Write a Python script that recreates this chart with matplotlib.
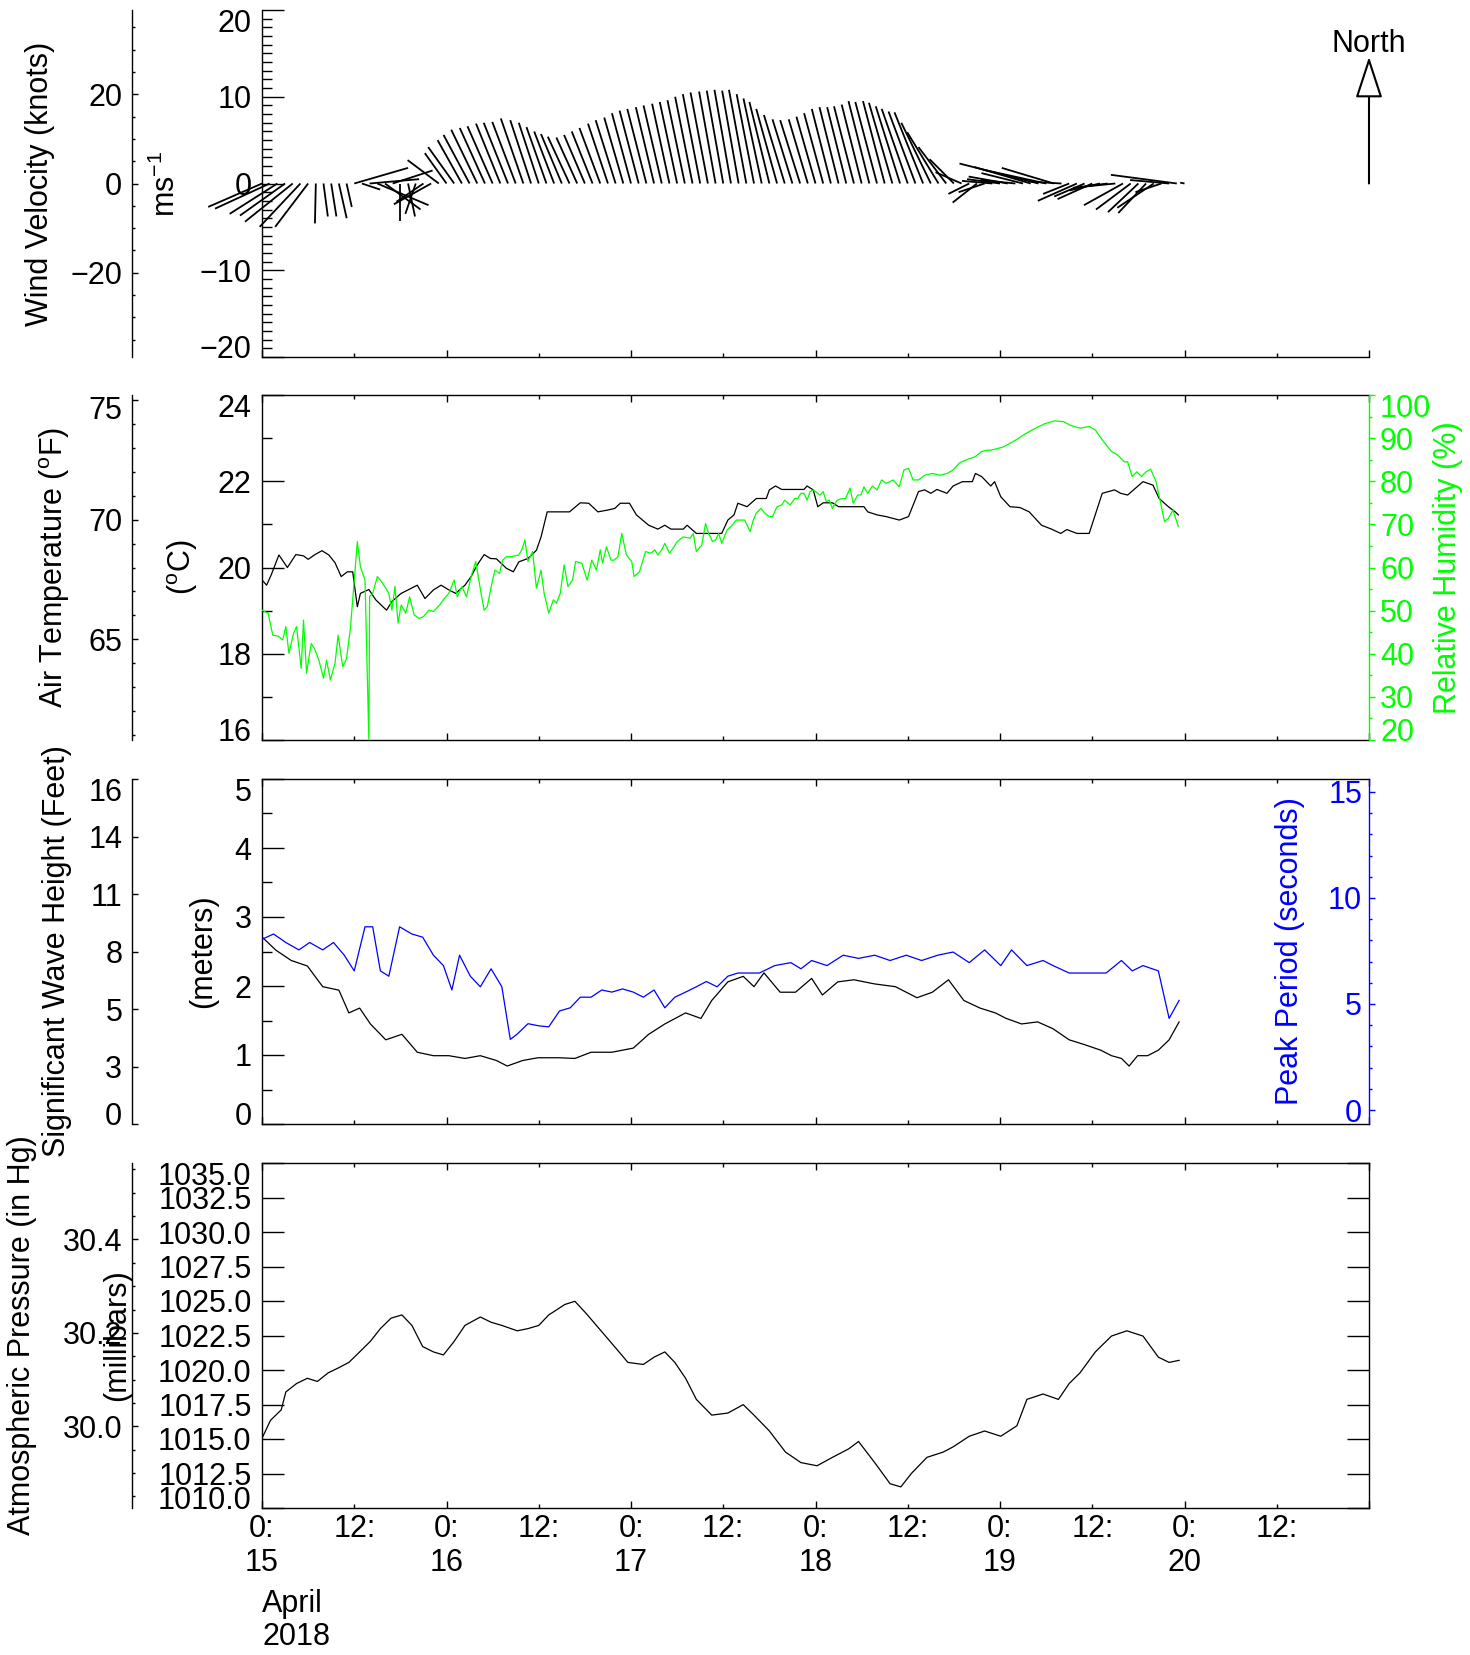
""" Buoy weather summary: wind sticks, temperature/humidity, waves, pressure """
import numpy as np
import matplotlib
matplotlib.use('Agg')
import matplotlib.pyplot as plt
from matplotlib.collections import LineCollection
from matplotlib.patches import FancyArrowPatch
from matplotlib.ticker import MultipleLocator, FixedLocator, FormatStrFormatter
from matplotlib.transforms import ScaledTranslation

plt.rcParams['font.family'] = ['Liberation Sans', 'DejaVu Sans']
plt.rcParams['mathtext.fontset'] = 'custom'
plt.rcParams['mathtext.rm'] = 'Liberation Sans'
plt.rcParams['mathtext.it'] = 'Liberation Sans:italic'
plt.rcParams['font.size'] = 22
plt.rcParams['axes.linewidth'] = 1.0

W, H = 1470, 1655
GREEN = '#00ff00'
BLUE = '#0000ff'

# ---- data (hours after 15 April 2018 00:00) ----
DAY_START, DAY_END = 15, 21
DAY_NUMBERS = [15, 16, 17, 18, 19, 20]

WIND_HOURS = list(range(121))
WIND_U = [-6.2, -6.3, -5.5, -5.2, -5.5, -4.7, -3.8, -0.1, 0.5, 0.6,
          0.9, 0.6, 6.2, 2.1, 5.7, 5.9, 4.1, 4.6, 0.0, 0.8,
          -1.2, -3.1, -4.3, -3.6, -2.5, -3.0, -2.8, -3.0, -3.0, -2.9,
          -2.9, -2.8, -2.8, -2.7, -2.6, -2.4, -2.3, -2.3, -2.3, -2.4,
          -2.5, -2.4, -2.4, -2.4, -2.4, -2.3, -2.3, -2.2, -2.2, -2.2,
          -2.2, -2.1, -2.1, -2.0, -2.0, -2.0, -2.0, -2.0, -2.0, -1.9,
          -1.9, -1.9, -1.9, -2.0, -2.0, -2.1, -2.3, -2.4, -2.4, -2.3,
          -2.3, -2.2, -2.2, -2.2, -2.2, -2.2, -2.2, -2.3, -2.3, -2.4,
          -2.5, -2.5, -2.7, -2.8, -3.0, -3.1, -3.3, -3.4, -3.6, -3.2,
          -2.8, -3.0, -2.4, -2.8, -3.0, -3.5, -3.8, -4.5, -4.0, -4.8,
          -6.5, -9.1, -7.3, -6.0, -3.5, -3.0, -4.5, -3.5, -4.0, -3.5,
          -4.0, -3.0, -4.5, -4.0, -3.5, -3.2, -4.2, -3.0, -4.5, -7.6,
          -0.5]
WIND_V = [-2.7, -2.9, -3.5, -3.7, -4.4, -5.0, -5.0, -4.6, -3.8, -3.8,
          -4.0, -2.7, 1.8, -0.7, 0.5, -2.5, -3.0, 1.5, -4.3, -3.8,
          -3.5, -2.1, -2.4, 2.7, 3.5, 4.2, 5.0, 5.6, 6.2, 6.4,
          6.6, 6.9, 7.0, 7.1, 7.5, 7.3, 7.0, 6.5, 6.0, 5.7,
          5.4, 5.3, 5.6, 6.0, 6.4, 6.9, 7.3, 7.6, 8.1, 8.4,
          8.6, 8.8, 9.0, 9.2, 9.4, 9.6, 10.0, 10.3, 10.5, 10.6,
          10.7, 10.8, 10.7, 10.8, 10.3, 9.8, 9.4, 8.6, 7.9, 7.4,
          7.3, 7.4, 7.7, 8.1, 8.6, 8.8, 8.8, 8.9, 9.1, 9.5,
          9.4, 9.5, 9.3, 8.9, 8.6, 8.3, 8.2, 7.0, 5.9, 4.2,
          2.8, 1.3, -1.2, -2.2, -1.0, 0.3, 0.5, 0.8, 0.4, 1.2,
          1.9, 2.3, 1.6, 1.8, 0.2, -1.2, -2.0, -1.5, -1.8, -0.8,
          -0.5, -0.3, -2.5, -3.0, -3.3, -3.4, -2.8, -1.0, 0.4, 1.0,
          0.1]
NORTH_REF = 14.6  # m/s, legend arrow

TEMP_HOURS = [0.0, 0.6, 1.2, 2.2, 3.3, 4.4, 5.4, 6.0, 6.9, 7.8, 8.7, 9.5, 10.3, 11.1, 11.8,
              12.4, 12.8, 13.9, 14.8, 16.2, 16.9, 18.1, 19.0, 20.2, 21.2, 22.3, 23.3, 24.3,
              25.2, 26.4, 27.2, 28.0, 28.9, 29.7, 30.5, 31.8, 32.7, 33.4, 34.6, 35.7, 36.3,
              37.1, 40.0, 41.4, 42.5, 43.7, 44.9, 45.9, 46.6, 47.8, 48.7, 50.3, 51.5, 52.4,
              53.2, 54.8, 55.3, 56.5, 58.1, 59.8, 60.6, 61.4, 61.9, 63.1, 64.3, 65.6, 66.0,
              66.8, 67.6, 70.5, 70.9, 71.7, 72.3, 73.0, 74.2, 75.0, 78.3, 78.8, 80.0, 81.2,
              82.9, 84.1, 85.4, 86.2, 87.0, 87.8, 89.1, 89.9, 91.1, 92.4, 92.8, 93.6, 94.8,
              95.3, 96.1, 97.3, 98.6, 99.8, 101.4, 102.7, 103.9, 104.7, 106.0, 107.6, 109.3,
              110.9, 111.7, 112.6, 114.6, 115.9, 116.7, 117.9, 118.8, 119.2]
TEMP_C = [19.71, 19.59, 19.83, 20.29, 20.00, 20.30, 20.27, 20.19, 20.30, 20.39, 20.29, 20.11,
          19.79, 19.90, 19.90, 19.09, 19.40, 19.49, 19.25, 19.01, 19.21, 19.40, 19.48, 19.59,
          19.28, 19.48, 19.59, 19.48, 19.40, 19.59, 19.79, 20.06, 20.30, 20.21, 20.20, 19.98,
          19.90, 20.13, 20.21, 20.40, 20.71, 21.29, 21.29, 21.50, 21.49, 21.29, 21.33, 21.37,
          21.49, 21.49, 21.22, 20.98, 20.89, 20.98, 20.89, 20.89, 20.98, 20.79, 20.79, 20.79,
          21.10, 21.22, 21.49, 21.41, 21.60, 21.60, 21.80, 21.89, 21.81, 21.81, 21.89, 21.80,
          21.41, 21.50, 21.50, 21.41, 21.41, 21.29, 21.22, 21.18, 21.10, 21.18, 21.76, 21.80,
          21.72, 21.81, 21.72, 21.89, 21.99, 21.99, 22.18, 22.11, 21.89, 21.99, 21.64, 21.41,
          21.39, 21.29, 20.98, 20.89, 20.79, 20.88, 20.79, 20.79, 21.72, 21.80, 21.72, 21.68,
          21.99, 21.91, 21.60, 21.41, 21.29, 21.22]

RH_HOURS = [0.0, 0.8, 1.4, 2.1, 2.7, 3.1, 3.5, 4.1, 4.5, 5.1, 5.4, 5.8, 6.4, 6.8, 7.4, 8.0, 8.4,
            8.9, 9.5, 9.9, 10.5, 11.0, 11.5, 12.4, 12.8, 13.4, 13.9, 14.0, 14.4, 15.0, 15.4,
            16.1, 16.5, 16.9, 17.3, 17.7, 18.1, 18.7, 19.2, 19.8, 20.4, 21.0, 21.7, 22.3, 23.1,
            23.7, 24.3, 25.0, 25.4, 26.0, 26.6, 27.2, 27.8, 28.5, 28.9, 29.3, 29.9, 30.3, 30.9,
            31.3, 31.8, 32.4, 33.4, 33.8, 34.2, 34.6, 35.2, 35.7, 36.3, 36.7, 37.3, 37.9, 38.3,
            38.8, 39.3, 39.8, 40.4, 40.8, 41.6, 42.3, 42.9, 43.5, 44.0, 44.3, 44.8, 45.4, 45.8,
            46.3, 46.8, 47.4, 48.1, 48.4, 49.1, 49.5, 49.9, 50.6, 51.1, 51.5, 52.0, 52.4, 53.0,
            53.6, 54.0, 54.8, 55.7, 56.1, 56.5, 57.2, 57.7, 58.1, 58.6, 59.0, 59.4, 59.8, 60.5,
            61.0, 61.7, 62.3, 62.8, 63.5, 63.9, 64.3, 64.9, 65.4, 66.0, 66.4, 67.0, 67.6, 68.0,
            68.7, 69.3, 69.7, 70.1, 70.5, 70.9, 71.3, 71.7, 72.6, 73.0, 73.4, 73.8, 74.2, 74.8,
            75.5, 75.9, 76.5, 76.9, 77.5, 77.9, 78.3, 78.8, 79.4, 80.0, 80.6, 81.2, 82.1, 82.9,
            83.5, 84.1, 84.7, 85.4, 86.2, 87.2, 88.2, 89.1, 89.9, 90.7, 91.5, 92.8, 93.6, 94.4,
            94.8, 95.7, 96.5, 97.3, 98.1, 99.4, 100.6, 101.9, 103.1, 104.3, 105.1, 106.4, 107.6,
            108.4, 109.3, 110.5, 111.3, 112.2, 112.6, 113.2, 113.8, 114.4, 115.0, 115.6, 116.3,
            116.9, 117.4, 117.9, 118.5, 119.2]
RH_PCT = [50.1, 49.4, 44.3, 44.1, 43.2, 46.3, 40.1, 44.7, 46.3, 36.6, 47.8, 35.5, 42.4, 41.3,
          38.5, 34.3, 38.5, 33.9, 37.8, 44.3, 37.0, 38.9, 45.9, 66.0, 60.2, 57.1, 20.0, 53.2,
          54.0, 57.9, 57.1, 55.2, 54.0, 50.1, 55.6, 47.1, 51.3, 49.4, 53.2, 49.0, 48.2, 48.6,
          50.1, 49.8, 51.3, 52.8, 54.0, 57.1, 53.2, 55.6, 53.2, 57.9, 61.4, 54.0, 50.1, 50.9,
          56.3, 59.4, 58.6, 61.7, 62.5, 62.5, 62.9, 64.1, 66.4, 61.4, 63.7, 55.2, 59.4, 54.0,
          49.4, 52.5, 51.7, 54.0, 60.6, 55.6, 57.1, 61.4, 61.0, 57.1, 61.7, 59.4, 64.1, 61.0,
          64.8, 61.7, 61.7, 62.5, 67.9, 62.9, 61.4, 57.9, 59.0, 61.4, 63.7, 63.3, 64.1, 62.9,
          64.1, 65.6, 63.3, 64.8, 66.0, 67.1, 66.8, 67.9, 63.7, 65.2, 70.2, 67.9, 66.0, 66.4,
          67.9, 65.6, 68.7, 69.5, 71.0, 71.0, 71.0, 68.3, 71.0, 72.6, 73.7, 72.6, 71.8, 71.8,
          74.1, 74.5, 75.6, 74.5, 76.0, 76.0, 77.2, 77.2, 75.6, 77.6, 78.0, 76.8, 77.6, 75.3,
          75.6, 73.7, 75.6, 76.0, 76.0, 78.4, 74.9, 76.8, 76.8, 78.7, 77.2, 78.9, 78.0, 80.3,
          79.5, 80.3, 78.7, 82.6, 83.0, 80.3, 80.3, 81.4, 81.8, 81.4, 81.8, 82.6, 84.2, 84.9,
          85.7, 86.9, 87.2, 87.2, 87.6, 88.0, 88.8, 89.6, 91.1, 92.3, 93.4, 94.0, 93.8, 93.0,
          92.3, 92.7, 91.9, 89.6, 86.9, 86.1, 84.5, 84.5, 81.1, 82.2, 81.1, 82.2, 82.8, 79.9,
          74.9, 70.6, 71.4, 73.3, 69.5]

WAVE_HOURS = [0.0, 1.8, 3.8, 5.9, 7.9, 10.0, 11.3, 12.7, 14.1, 16.1, 18.2, 20.2, 22.3, 24.3,
              26.4, 28.4, 30.5, 31.9, 33.9, 35.9, 38.7, 40.7, 42.8, 45.5, 48.3, 50.3, 52.4,
              55.1, 57.1, 58.5, 60.6, 62.6, 64.0, 65.3, 67.4, 69.4, 71.5, 72.9, 74.9, 77.0,
              79.7, 82.4, 85.2, 87.2, 89.3, 91.3, 93.4, 95.4, 96.8, 98.8, 100.9, 102.9, 105.0,
              107.0, 109.1, 110.5, 111.8, 112.8, 113.9, 115.2, 116.6, 118.0, 119.3]
WAVE_M = [2.71, 2.52, 2.37, 2.29, 1.99, 1.94, 1.61, 1.68, 1.45, 1.22, 1.30, 1.04, 0.99, 0.99,
          0.95, 0.99, 0.92, 0.84, 0.92, 0.96, 0.96, 0.95, 1.04, 1.04, 1.10, 1.30, 1.45, 1.61,
          1.53, 1.79, 2.06, 2.14, 1.99, 2.19, 1.91, 1.91, 2.11, 1.87, 2.06, 2.09, 2.03, 1.99,
          1.83, 1.91, 2.09, 1.79, 1.68, 1.61, 1.53, 1.45, 1.48, 1.38, 1.22, 1.15, 1.07, 0.99,
          0.95, 0.84, 0.99, 0.99, 1.07, 1.22, 1.48]

PERIOD_HOURS = [0.0, 1.5, 3.1, 4.8, 6.2, 7.9, 9.3, 10.7, 12.0, 13.4, 14.4, 15.4, 16.5, 17.9,
                19.5, 20.9, 22.3, 23.6, 24.7, 25.7, 27.1, 28.4, 29.8, 31.2, 32.3, 33.2, 34.6,
                36.0, 37.3, 38.7, 40.1, 41.4, 42.8, 44.2, 45.5, 46.9, 48.3, 49.6, 51.0, 52.4,
                53.7, 55.1, 56.5, 57.8, 59.2, 60.6, 61.9, 64.7, 66.7, 68.8, 70.1, 71.5, 73.5,
                75.6, 77.6, 79.7, 81.7, 83.8, 85.8, 87.9, 89.9, 92.0, 94.0, 96.1, 97.5, 99.5,
                101.6, 102.9, 105.0, 107.0, 109.8, 111.8, 113.2, 114.6, 116.6, 118.0, 119.3]
PERIOD_S = [8.05, 8.30, 7.90, 7.55, 7.90, 7.55, 7.90, 7.30, 6.56, 8.64, 8.64, 6.56, 6.31, 8.64,
            8.30, 8.15, 7.30, 6.81, 5.66, 7.30, 6.31, 5.81, 6.66, 5.81, 3.33, 3.58, 4.07, 3.97,
            3.92, 4.67, 4.82, 5.32, 5.32, 5.66, 5.56, 5.71, 5.56, 5.32, 5.66, 4.82, 5.32, 5.56,
            5.81, 6.06, 5.81, 6.31, 6.46, 6.46, 6.81, 6.95, 6.66, 7.05, 6.81, 7.30, 7.15, 7.30,
            7.05, 7.30, 7.05, 7.30, 7.45, 6.95, 7.55, 6.81, 7.55, 6.81, 7.05, 6.81, 6.46, 6.46,
            6.46, 7.05, 6.56, 6.81, 6.56, 4.32, 5.17]

PRES_HOURS = [0.0, 1.1, 2.5, 3.1, 4.5, 5.9, 7.2, 8.6, 10.0, 11.3, 12.7, 14.1, 15.4, 16.8, 18.2,
              19.5, 20.9, 22.3, 23.6, 25.0, 26.4, 28.4, 29.8, 31.2, 33.2, 34.6, 36.0, 37.3,
              39.4, 40.7, 42.1, 43.5, 45.5, 47.6, 49.6, 51.0, 52.4, 53.7, 55.1, 56.5, 58.5,
              60.6, 62.6, 64.0, 66.0, 68.1, 70.1, 72.2, 74.2, 76.3, 77.6, 79.7, 81.7, 83.1,
              84.5, 86.5, 88.6, 89.9, 92.0, 94.0, 96.1, 98.2, 99.5, 101.6, 103.6, 105.0, 106.4,
              108.4, 110.5, 112.5, 114.6, 116.6, 118.0, 119.3]
PRES_MB = [1015.05, 1016.35, 1017.11, 1018.41, 1019.02, 1019.40, 1019.17, 1019.79, 1020.17,
           1020.55, 1021.31, 1022.08, 1023.00, 1023.76, 1023.99, 1023.23, 1021.70, 1021.31,
           1021.09, 1022.08, 1023.23, 1023.84, 1023.46, 1023.23, 1022.84, 1023.00, 1023.23,
           1023.99, 1024.75, 1024.98, 1024.14, 1023.23, 1021.93, 1020.55, 1020.40, 1020.93,
           1021.31, 1020.55, 1019.40, 1017.87, 1016.73, 1016.88, 1017.49, 1016.73, 1015.58,
           1014.05, 1013.29, 1013.06, 1013.67, 1014.28, 1014.82, 1013.29, 1011.76, 1011.53,
           1012.52, 1013.67, 1014.05, 1014.43, 1015.20, 1015.58, 1015.20, 1015.96, 1017.87,
           1018.26, 1017.87, 1019.02, 1019.79, 1021.31, 1022.46, 1022.84, 1022.46, 1020.93,
           1020.55, 1020.70]

KNOTS_PER_MS = 1.94384
FT_PER_M = 3.28084
MB_PER_INHG = 33.8639


def days(hours):
    return DAY_START + np.asarray(hours) / 24.0


def box(left, top, right, bottom):
    """ pixel box -> figure fraction rect """
    return [left / W, 1 - bottom / H, (right - left) / W, (bottom - top) / H]


def day_ticks(ax, top=True):
    ax.set_xlim(DAY_START, DAY_END)
    ax.xaxis.set_major_locator(MultipleLocator(1))
    ax.xaxis.set_minor_locator(MultipleLocator(0.5))
    ax.tick_params(axis='x', which='both', direction='in', top=top, width=1,
                   labelbottom=False, pad=4)
    ax.tick_params(axis='x', which='major', length=5)
    ax.tick_params(axis='x', which='minor', length=3)


def y_ticks(ax, lim, major, minor=None, right=False, minor_len=7):
    ax.set_ylim(*lim)
    ax.yaxis.set_major_locator(MultipleLocator(major))
    if minor:
        ax.yaxis.set_minor_locator(MultipleLocator(minor))
    ax.tick_params(axis='y', which='both', direction='in', width=1, pad=7.5, right=right)
    ax.tick_params(axis='y', which='major', length=16)
    ax.tick_params(axis='y', which='minor', length=minor_len)


def pin_end_labels(axis, low=True, high=True, shift=7.5):
    """ nudge the end labels inside the axis, as the original plot does """
    lo, hi = sorted(axis.get_view_interval())
    eps = (hi - lo) * 1e-6
    locs = axis.get_majorticklocs()
    ticks = axis.get_major_ticks(len(locs))
    inside = [t for t, v in zip(ticks, locs) if lo - eps <= v <= hi + eps]
    moves = []
    if low:
        moves.append((inside[0], shift))
    if high:
        moves.append((inside[-1], -shift))
    for tick, dy in moves:
        off = ScaledTranslation(0, dy / 72.0, fig.dpi_scale_trans)
        for lab in (tick.label1, tick.label2):
            lab.set_transform(lab.get_transform() + off)


def side_axis(panel, lim, label, label_x):
    left, top, _, bottom = panel
    ax = fig.add_axes(box(132, top, left, bottom))
    ax.patch.set_visible(False)
    for s in ('top', 'right', 'bottom'):
        ax.spines[s].set_visible(False)
    ax.set_xticks([])
    ax.set_ylim(*lim)
    ax.tick_params(axis='y', which='both', direction='in', pad=7, width=1)
    ax.tick_params(axis='y', which='major', length=4)
    ax.tick_params(axis='y', which='minor', length=2.5)
    ax.set_ylabel(label)
    ax.yaxis.set_label_coords(label_x, 0.5)
    return ax


fig = plt.figure(figsize=(W / 100, H / 100), dpi=100)

P1 = (262, 10, 1369, 357)
P2 = (262, 395, 1369, 740)
P3 = (262, 779, 1369, 1124)
P4 = (262, 1163, 1369, 1508)

# ---- panel 1: wind sticks ----
ax1 = fig.add_axes(box(*P1))
ax1.spines['top'].set_visible(False)
ax1.spines['right'].set_visible(False)
day_ticks(ax1, top=False)
y_ticks(ax1, (-20, 20), 10, 1)
pin_end_labels(ax1.yaxis)
ax1.set_ylabel('ms$^{-1}$')
ax1.yaxis.set_label_coords(-0.0723, 0.5)

# x-extent of a stick uses the same pixel scale as y
px_per_ms = (P1[3] - P1[1]) / 40.0
px_per_day = (P1[2] - P1[0]) / float(DAY_END - DAY_START)
k = px_per_ms / px_per_day
t_w = days(WIND_HOURS)
segs = [[(t, 0), (t + u * k, v)] for t, u, v in zip(t_w, WIND_U, WIND_V)]
ax1.add_collection(LineCollection(segs, colors='black', linewidths=1.3, clip_on=False))

north = FancyArrowPatch((DAY_END, 0), (DAY_END, NORTH_REF),
                        arrowstyle='-|>,head_length=26,head_width=8.5', mutation_scale=1,
                        fc='white', ec='black', lw=1.5, clip_on=False,
                        shrinkA=0, shrinkB=0)
ax1.add_patch(north)
fig.text(1369 / W, 1 - 44 / H, 'North', ha='center', va='center')

o1 = side_axis(P1, (-20 * KNOTS_PER_MS, 20 * KNOTS_PER_MS), 'Wind Velocity (knots)', -0.592)
o1.yaxis.set_major_locator(MultipleLocator(20))
o1.yaxis.set_minor_locator(MultipleLocator(5))

# ---- panel 2: temperature and humidity ----
ax2 = fig.add_axes(box(*P2))
ax2.spines['right'].set_visible(False)
day_ticks(ax2)
y_ticks(ax2, (16, 24), 2, 1)
ax2.plot(days(TEMP_HOURS), TEMP_C, color='black', lw=0.9)
ax2.set_ylabel('($^{\\rm o}$C)')
ax2.yaxis.set_label_coords(-0.056, 0.5)
pin_end_labels(ax2.yaxis)

ax2r = ax2.twinx()
for s in ('top', 'left', 'bottom'):
    ax2r.spines[s].set_visible(False)
ax2r.spines['right'].set_color(GREEN)
ax2r.set_ylim(20, 100)
ax2r.yaxis.set_major_locator(MultipleLocator(10))
ax2r.yaxis.set_minor_locator(MultipleLocator(5))
ax2r.tick_params(axis='y', which='both', direction='out', colors=GREEN, width=1, pad=4)
ax2r.tick_params(axis='y', which='major', length=4)
ax2r.tick_params(axis='y', which='minor', length=2.5)
ax2r.plot(days(RH_HOURS), RH_PCT, color=GREEN, lw=0.9)
ax2r.set_ylabel('Relative Humidity (%)', color=GREEN)
ax2r.yaxis.set_label_coords(1.058, 0.5)
pin_end_labels(ax2r.yaxis)

o2 = side_axis(P2, (16 * 1.8 + 32, 24 * 1.8 + 32), 'Air Temperature ($^{\\rm o}$F)', -0.46)
o2.yaxis.set_major_locator(MultipleLocator(5))
o2.yaxis.set_minor_locator(MultipleLocator(1))
pin_end_labels(o2.yaxis, low=False, shift=5.5)

# ---- panel 3: waves ----
PERIOD_LIM = (-0.66, 15.61)
ax3 = fig.add_axes(box(*P3))
ax3.spines['right'].set_visible(False)
day_ticks(ax3)
y_ticks(ax3, (0, 5), 1, 0.5)
ax3.plot(days(WAVE_HOURS), WAVE_M, color='black', lw=0.9)
ax3.set_ylabel('(meters)')
ax3.yaxis.set_label_coords(-0.0397, 0.5)
pin_end_labels(ax3.yaxis)

ax3p = ax3.twinx()
for s in ax3p.spines.values():
    s.set_visible(False)
ax3p.set_ylim(*PERIOD_LIM)
ax3p.set_yticks([])
ax3p.plot(days(PERIOD_HOURS), PERIOD_S, color=BLUE, lw=0.9)

ax3b = fig.add_axes(box(P3[2], P3[1], P3[2] + 60, P3[3]))
ax3b.patch.set_visible(False)
for s in ('top', 'right', 'bottom'):
    ax3b.spines[s].set_visible(False)
ax3b.spines['left'].set_color(BLUE)
ax3b.set_xticks([])
ax3b.set_ylim(*PERIOD_LIM)
ax3b.yaxis.set_major_locator(MultipleLocator(5))
ax3b.yaxis.set_minor_locator(MultipleLocator(1))
ax3b.tick_params(axis='y', which='both', direction='in', colors=BLUE, width=1, pad=5)
ax3b.tick_params(axis='y', which='major', length=4)
ax3b.tick_params(axis='y', which='minor', length=2.5)
ax3b.set_ylabel('Peak Period (seconds)', color=BLUE)
ax3b.yaxis.set_label_coords(-1.067, 0.5)

o3 = side_axis(P3, (0, 5 * FT_PER_M), 'Significant Wave Height (Feet)', -0.46)
o3.yaxis.set_major_locator(FixedLocator(np.linspace(0, 5 * FT_PER_M, 7)))
o3.yaxis.set_major_formatter(FormatStrFormatter('%.0f'))
pin_end_labels(o3.yaxis)

# ---- panel 4: pressure ----
ax4 = fig.add_axes(box(*P4))
day_ticks(ax4)
y_ticks(ax4, (1010, 1035), 2.5, right=True)
ax4.yaxis.set_major_formatter(FormatStrFormatter('%.1f'))
ax4.plot(days(PRES_HOURS), PRES_MB, color='black', lw=0.9)
ax4.set_ylabel('(millibars)')
ax4.yaxis.set_label_coords(-0.1174, 0.5)
pin_end_labels(ax4.yaxis)

ax4.set_xticks(DAY_NUMBERS + [DAY_END],
               [f'0:\n{d}' for d in DAY_NUMBERS] + [''])
ax4.set_xticks([d + 0.5 for d in DAY_NUMBERS], ['12:'] * len(DAY_NUMBERS), minor=True)
ax4.tick_params(axis='x', which='both', labelbottom=True, pad=4)
for lab in ax4.get_xticklabels():
    lab.set_linespacing(1.18)
fig.text(262 / W, 1 - 1589 / H, 'April\n2018', ha='left', va='top', linespacing=1.15)

o4 = side_axis(P4, (1010 / MB_PER_INHG, 1035 / MB_PER_INHG),
               'Atmospheric Pressure (in Hg)', -0.73)
o4.yaxis.set_major_locator(MultipleLocator(0.2))
o4.yaxis.set_minor_locator(MultipleLocator(0.05))
o4.yaxis.set_major_formatter(FormatStrFormatter('%.1f'))

fig.savefig('out.png', dpi=100)
